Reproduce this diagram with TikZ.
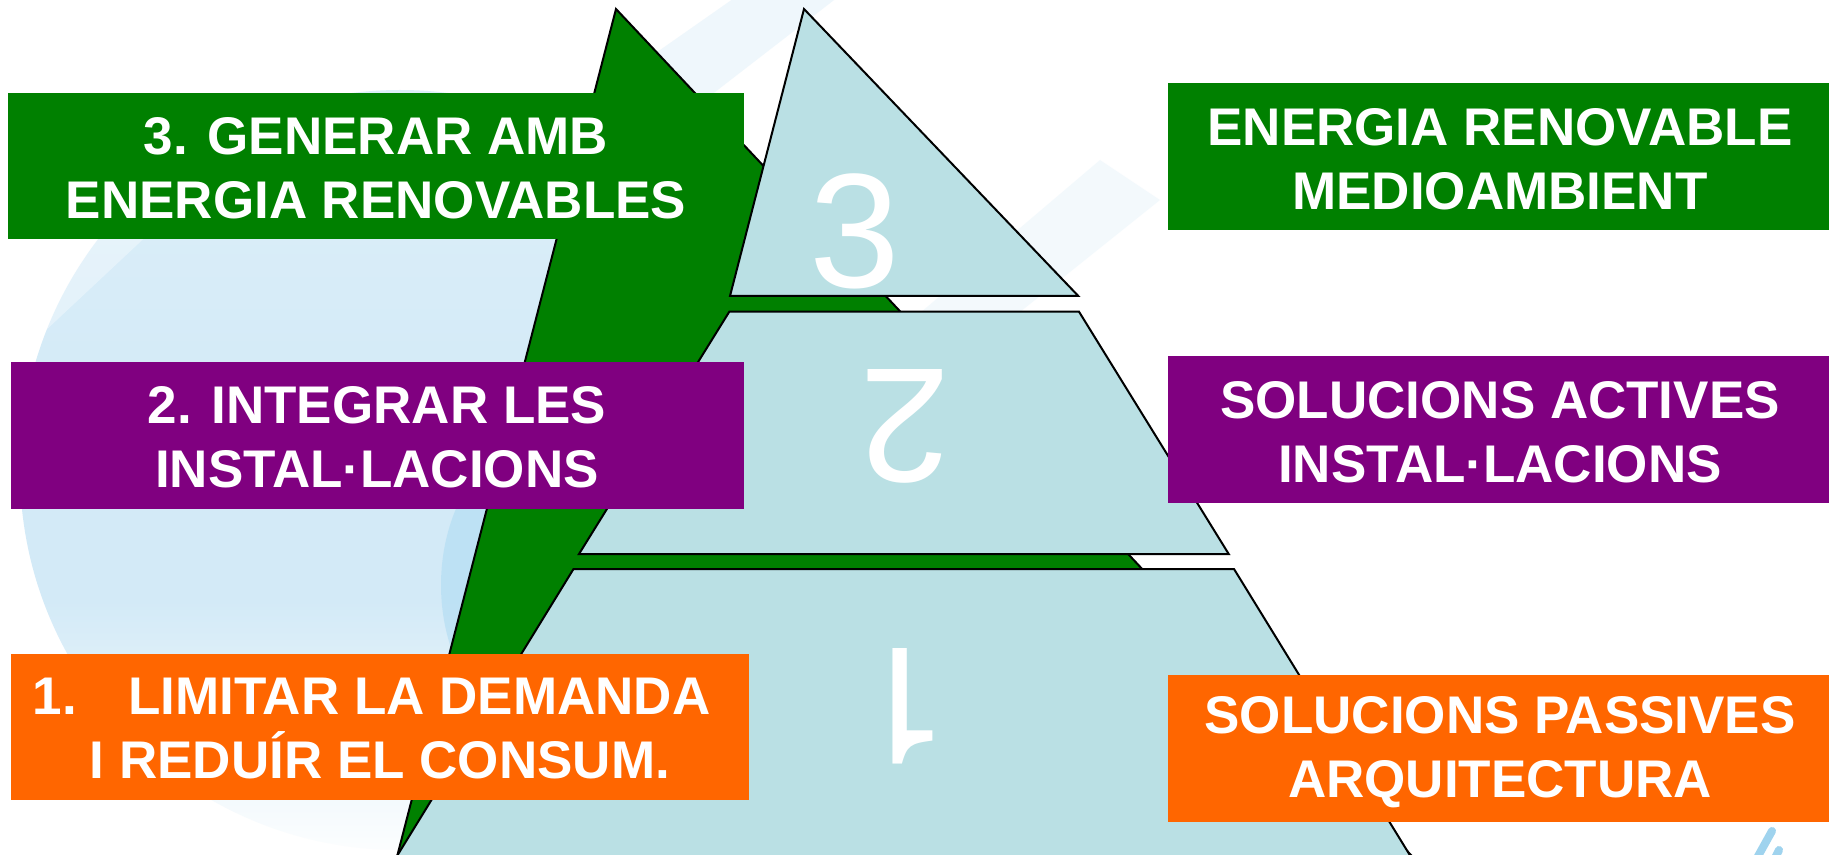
\documentclass[tikz,border=0pt]{standalone}
\usepackage{fontspec}
\setmainfont{Liberation Sans}
\newfontfamily\onefont{TeX Gyre Heros}
\definecolor{pgreen}{HTML}{008000}
\definecolor{ppurple}{HTML}{800080}
\definecolor{porange}{HTML}{FF6600}
\definecolor{plblue}{HTML}{BAE0E4}
\definecolor{bgblue}{HTML}{D3EAF7}
\definecolor{bgdark}{HTML}{A9D9F2}
\definecolor{logoblue}{HTML}{9FD3EE}
\begin{document}
\begin{tikzpicture}[x=0.5pt,y=-0.5pt,
  tier/.style={fill=plblue,draw=black,line width=1pt,line join=miter},
  shadowtri/.style={fill=pgreen,draw=black,line width=1pt},
  boxtext/.style={text=white,font=\fontsize{26.5}{32}\selectfont\bfseries,align=center,inner sep=0pt},
  digit/.style={text=white,font=\fontsize{81.5}{90}\selectfont,inner sep=0pt}]
\useasboundingbox (0,0) rectangle (1829,855);
\clip (0,0) rectangle (1829,855);
\fill[white] (0,0) rectangle (1829,855);
% background swirl
\begin{scope}
  \clip (400,470) ellipse [x radius=190pt, y radius=190pt];
  \shade[top color=bgblue!70, bottom color=bgblue] (0,0) rectangle (800,420);
  \fill[bgblue] (0,420) rectangle (800,600);
  \shade[top color=bgblue, bottom color=white] (0,600) rectangle (800,870);
\end{scope}
\fill[bgdark,opacity=0.5] (565,585) ellipse [x radius=62pt, y radius=80pt];
\fill[white,opacity=0.35] (-50,330) -- (330,-20) -- (420,-20) -- (-50,420) -- cycle;
\fill[bgblue,opacity=0.35] (560,120) -- (760,-20) -- (860,-20) -- (640,150) -- cycle;
\fill[bgblue,opacity=0.25] (900,330) -- (1100,160) -- (1160,200) -- (960,360) -- cycle;
\draw[logoblue,line width=4pt,line cap=round] (1757,858) -- (1772,831);
\draw[logoblue,line width=4pt,line cap=round] (1775,858) -- (1779,850);
% green shadow triangle
\path[shadowtri] (616,9) -- (1425,870) -- (393.6,870) -- cycle;
% pyramid tiers
\path[tier] (804,9) -- (1078.3,296) -- (730,296) -- cycle;
\path[tier] (729.3,311.7) -- (1079,311.7) -- (1228.7,554) -- (579,554) -- cycle;
\path[tier] (573.5,569) -- (1234,569) -- (1419,870) -- (388.4,870) -- cycle;
% digits
\node[digit] (d3) at (854.7,231.7) {3};
\node[digit,rotate=180] (d2) at (905,426.3) {2};
\node[digit,rotate=180,font=\fontsize{81.5}{90}\onefont] (d1) at (903.9,705.8) {1};
% left boxes
\fill[pgreen] (8,92.7) rectangle (744,239);
\fill[ppurple] (11,362) rectangle (744,509);
\fill[porange] (11,654) rectangle (748.5,800.3);
% right boxes
\fill[pgreen] (1168,83.3) rectangle (1835,230);
\fill[ppurple] (1168,356) rectangle (1835,503);
\fill[porange] (1168,675.3) rectangle (1835,822);
% texts
\node[boxtext] (l3) at (376,168.5) {3. GENERAR AMB\\ENERGIA RENOVABLES};
\node[boxtext] (l2) at (377,437.7) {2. INTEGRAR LES\\INSTAL·LACIONS};
\node[boxtext] (l1) at (380,728.7) {1.\hspace{25.8pt}LIMITAR LA DEMANDA\hspace*{8.5pt}\\I REDUÍR EL CONSUM.};
\node[boxtext] (r3) at (1500,159.2) {ENERGIA RENOVABLE\\MEDIOAMBIENT};
\node[boxtext] (r2) at (1500,431.8) {SOLUCIONS ACTIVES\\INSTAL·LACIONS};
\node[boxtext] (r1) at (1500,752) {SOLUCIONS PASSIVES\\ARQUITECTURA};
\end{tikzpicture}
\end{document}
